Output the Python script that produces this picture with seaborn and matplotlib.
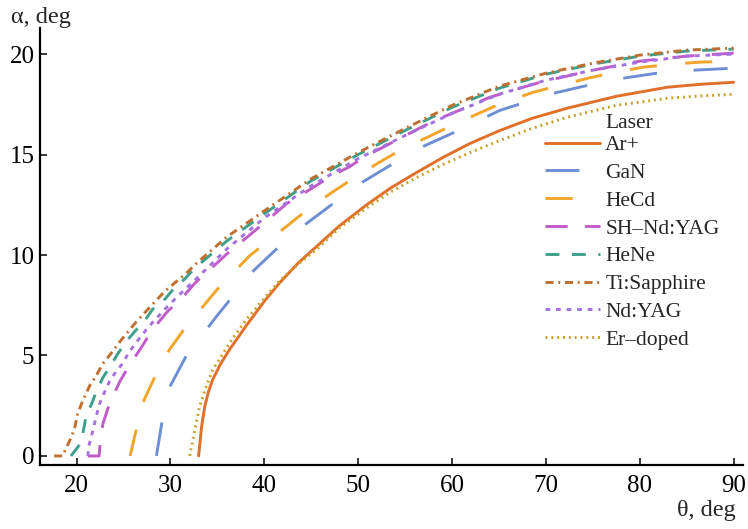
import matplotlib
matplotlib.use("Agg")
import matplotlib.pyplot as plt
import numpy as np
import pandas as pd
import seaborn as sns

# ---------------- data ----------------
lasers = ["Ar+", "GaN", "HeCd", "SH–Nd:YAG", "HeNe", "Ti:Sapphire", "Nd:YAG", "Er–doped"]

ar_theta = [33.0, 33.3, 33.65, 34.05, 34.5, 35.3, 36.3, 38.1, 40.0, 41.6, 43.6, 45.5, 48.0, 50.9, 53.5, 56.2, 59.0, 61.9, 65.1, 68.5, 72.2, 77.5, 82.9, 86.5, 90.0]
ar_alpha = [0.0, 1.4, 2.45, 3.2, 3.8, 4.55, 5.3, 6.5, 7.7, 8.6, 9.6, 10.4, 11.45, 12.5, 13.35, 14.1, 14.85, 15.55, 16.2, 16.8, 17.3, 17.9, 18.35, 18.5, 18.6]

gan_theta = [28.5, 29.1, 30.0, 31.7, 35.0, 38.8, 41.3, 44.3, 47.15, 50.35, 53.55, 56.9, 60.2, 65.1, 70.8, 74.5, 78.2, 81.8, 85.7, 90.0]
gan_alpha = [0.0, 1.7, 3.5, 5.0, 7.0, 9.2, 10.3, 11.5, 12.5, 13.6, 14.5, 15.4, 16.1, 17.2, 18.05, 18.45, 18.8, 19.05, 19.2, 19.3]

hecd_theta = [25.7, 26.4, 27.2, 28.4, 29.9, 31.6, 35.0, 38.4, 42.3, 44.7, 47.15, 49.6, 52.2, 54.8, 57.55, 60.2, 65.0, 68.65, 71.5, 74.5, 77.4, 80.4, 83.4, 86.4, 90.0]
hecd_alpha = [0.0, 1.4, 2.8, 4.0, 5.3, 6.4, 8.3, 9.95, 11.4, 12.3, 13.1, 13.85, 14.6, 15.3, 15.9, 16.5, 17.5, 18.1, 18.45, 18.8, 19.1, 19.35, 19.5, 19.6, 19.65]

sh_theta = [21.2, 22.4, 22.5, 22.8, 23.5, 24.6, 25.6, 26.9, 28.1, 29.7, 31.2, 32.6, 36.0, 40.0, 42.35, 45.0, 47.0, 49.1, 50.7, 52.8, 54.6, 56.9, 58.7, 61.0, 64.0, 67.2, 69.4, 75.0, 80.0, 85.0, 90.0]
sh_alpha = [0.0, 0.0, 0.6, 1.6, 2.6, 3.7, 4.5, 5.4, 6.3, 7.2, 7.85, 8.6, 10.05, 11.6, 12.55, 13.3, 13.9, 14.4, 14.9, 15.4, 15.85, 16.4, 16.8, 17.25, 17.85, 18.3, 18.6, 19.2, 19.65, 19.9, 20.05]

hene_theta = [19.4, 20.3, 20.7, 21.0, 21.6, 22.1, 22.8, 23.5, 24.4, 25.3, 26.2, 27.2, 28.1, 29.4, 30.3, 31.5, 32.6, 36.0, 40.0, 45.0, 50.0, 55.0, 60.0, 65.0, 70.0, 75.0, 80.0, 85.0, 90.0]
hene_alpha = [0.0, 0.55, 1.2, 1.95, 2.6, 3.2, 3.9, 4.4, 5.1, 5.7, 6.2, 6.7, 7.3, 7.8, 8.3, 8.8, 9.35, 10.7, 12.05, 13.7, 15.0, 16.2, 17.35, 18.3, 19.0, 19.5, 19.9, 20.15, 20.25]

ti_theta = [17.6, 18.5, 18.9, 19.4, 19.8, 20.1, 20.7, 21.4, 22.1, 22.8, 23.5, 24.8, 26.4, 27.4, 29.4, 31.7, 32.8, 36.0, 40.0, 45.0, 50.0, 55.0, 60.0, 65.0, 70.0, 75.0, 80.0, 85.0, 90.0]
ti_alpha = [0.0, 0.0, 0.4, 0.9, 1.4, 2.1, 2.8, 3.5, 4.0, 4.6, 5.0, 5.8, 6.7, 7.2, 8.2, 9.1, 9.6, 10.9, 12.2, 13.8, 15.1, 16.3, 17.45, 18.4, 19.05, 19.55, 19.95, 20.2, 20.3]

nd_theta = [21.2, 21.3, 21.6, 21.85, 22.1, 22.45, 23.0, 23.5, 24.2, 24.9, 25.5, 26.2, 27.1, 28.1, 29.6, 31.0, 32.6, 36.0, 40.0, 45.0, 50.0, 55.0, 60.0, 65.0, 70.0, 75.0, 80.0, 85.0, 90.0]
nd_alpha = [0.0, 0.5, 1.0, 1.5, 2.0, 2.6, 3.2, 3.7, 4.2, 4.6, 5.1, 5.55, 6.1, 6.65, 7.4, 8.05, 8.75, 10.3, 11.85, 13.45, 14.8, 15.95, 17.05, 18.0, 18.7, 19.2, 19.6, 19.9, 20.0]

er_theta = [32.05, 32.6, 33.1, 33.8, 34.5, 35.6, 36.7, 38.1, 39.9, 41.6, 43.6, 45.5, 48.0, 50.9, 53.5, 56.2, 59.0, 61.9, 65.1, 68.5, 72.2, 77.5, 82.9, 86.5, 90.0]
er_alpha = [0.0, 1.3, 2.45, 3.45, 4.3, 5.1, 5.9, 6.8, 7.8, 8.7, 9.55, 10.25, 11.35, 12.35, 13.15, 13.85, 14.5, 15.1, 15.7, 16.3, 16.85, 17.45, 17.8, 17.92, 18.0]

x_ticks = [20, 30, 40, 50, 60, 70, 80, 90]
y_ticks = [0, 5, 10, 15, 20]

# ---------------- styles ----------------
colors = {
    "Ar+": "#E0702A",
    "GaN": "#6E8FD3",
    "HeCd": "#F2A52A",
    "SH–Nd:YAG": "#C05CC8",
    "HeNe": "#3E9F8B",
    "Ti:Sapphire": "#BF6F30",
    "Nd:YAG": "#A372DE",
    "Er–doped": "#C8A12A",
}
dash_styles = {
    "Ar+": "",
    "GaN": (24.5, 26.5),
    "HeCd": (19.5, 20.5),
    "SH–Nd:YAG": (16.0, 12.5),
    "HeNe": (10.0, 9.0),
    "Ti:Sapphire": (5.8, 3.4, 1.4, 3.4),
    "Nd:YAG": (3.4, 4.2),
    "Er–doped": (1.4, 2.8),
}

series = {
    "Ar+": (ar_theta, ar_alpha),
    "GaN": (gan_theta, gan_alpha),
    "HeCd": (hecd_theta, hecd_alpha),
    "SH–Nd:YAG": (sh_theta, sh_alpha),
    "HeNe": (hene_theta, hene_alpha),
    "Ti:Sapphire": (ti_theta, ti_alpha),
    "Nd:YAG": (nd_theta, nd_alpha),
    "Er–doped": (er_theta, er_alpha),
}
frames = []
for name in lasers:
    th, al = series[name]
    frames.append(pd.DataFrame({"theta": th, "alpha": al, "Laser": name}))
df = pd.concat(frames, ignore_index=True)

sns.set_style("ticks")
plt.rcParams["font.family"] = ["Liberation Serif", "DejaVu Serif"]
plt.rcParams["lines.scale_dashes"] = False

W, H = 748, 529
fig = plt.figure(figsize=(W / 100, H / 100), dpi=100)
ax = fig.add_axes([40 / W, 64 / H, 703 / W, 437 / H])

sns.lineplot(
    data=df, x="theta", y="alpha", hue="Laser", style="Laser",
    hue_order=lasers, style_order=lasers, palette=colors, dashes=dash_styles,
    estimator=None, sort=False, linewidth=2.1, ax=ax, legend="full",
)

ax.set_xlim(16.1, 91.0)
ax.set_ylim(-0.45, 21.3)
ax.set_xticks(x_ticks)
ax.set_yticks(y_ticks)
ax.set_xlabel("")
ax.set_ylabel("")
for s in ["top", "right"]:
    ax.spines[s].set_visible(False)
for s in ["left", "bottom"]:
    ax.spines[s].set_linewidth(1.6)
    ax.spines[s].set_color("black")
ax.tick_params(axis="both", direction="in", length=5, width=1.1, labelsize=18, colors="black")
ax.tick_params(axis="x", pad=7)
ax.tick_params(axis="y", pad=4)

fig.text(11 / W, 1 - 7 / H, "α, deg", ha="left", va="top", fontsize=17.5)
fig.text(736 / W, 1 - 516 / H, "θ, deg", ha="right", va="baseline", fontsize=17.5)

old = ax.get_legend()
handles = list(old.legend_handles)
labels = [t.get_text() for t in old.texts]
old.remove()
for h in handles:
    h.set_linewidth(2.1)
leg = ax.legend(
    handles, labels, loc="upper left",
    bbox_to_anchor=(545 / W, 1 - 135 / H), bbox_transform=fig.transFigure,
    frameon=False, fontsize=15.5, handlelength=2.55,
    handletextpad=0.25, labelspacing=0.36, borderpad=0, borderaxespad=0,
)
fig.text(605 / W, 1 - 124 / H, "Laser", ha="left", va="center", fontsize=15.5)

fig.savefig("out.png", dpi=100)
